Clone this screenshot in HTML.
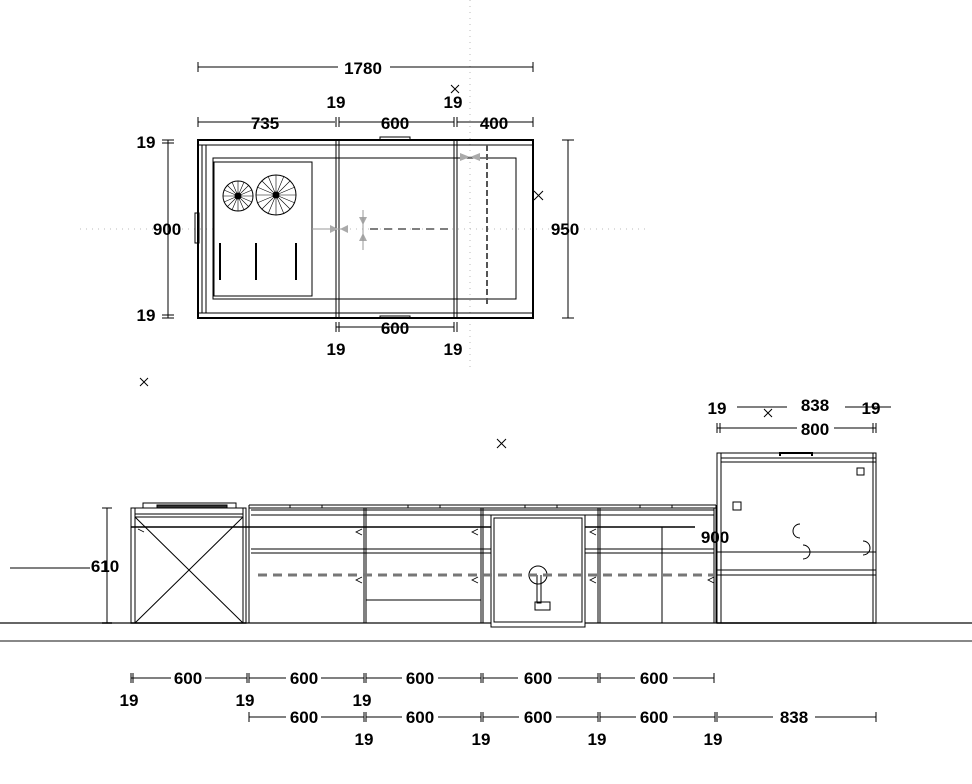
<!DOCTYPE html>
<html><head><meta charset="utf-8"><style>
html,body{margin:0;padding:0;background:#fff;width:972px;height:784px;overflow:hidden}
svg text{font-family:"Liberation Sans",Arial,sans-serif;font-weight:bold;font-size:17px;fill:#000}
</style></head><body>
<svg width="972" height="784" viewBox="0 0 972 784" xmlns="http://www.w3.org/2000/svg">
<g fill="none" stroke="#000" stroke-width="1">
<line x1="80" y1="229" x2="645" y2="229" stroke="#bbb" stroke-dasharray="1 5"/>
<line x1="470" y1="0" x2="470" y2="370" stroke="#bbb" stroke-dasharray="1 5"/>
<rect x="198" y="140" width="335" height="178" stroke-width="2"/>
<line x1="198" y1="145" x2="533" y2="145"/>
<line x1="198" y1="313" x2="533" y2="313"/>
<line x1="202" y1="145" x2="202" y2="313"/>
<line x1="206" y1="145" x2="206" y2="313"/>
<rect x="195" y="213" width="4" height="30"/>
<line x1="336" y1="140" x2="336" y2="318"/><line x1="339" y1="140" x2="339" y2="318"/>
<line x1="454" y1="140" x2="454" y2="318"/><line x1="457" y1="140" x2="457" y2="318"/>
<path d="M380 140 v-3 h30 v3"/>
<path d="M380 318 v-2 h30 v2"/>
<rect x="213" y="158" width="303" height="141"/>
<rect x="214" y="162" width="98" height="134" fill="#fff"/>
<circle cx="238" cy="196" r="15"/><circle cx="276" cy="195" r="20"/>
<g stroke-width="0.6">
<path d="M223 196h30M238 181v30M227 185l22 22M249 185l-22 22M232 182l12 28M244 182l-12 28M224 190l28 12M252 190l-28 12"/>
<path d="M256 195h40M276 175v40M262 181l28 28M290 181l-28 28M268 176l16 38M284 176l-16 38M257 187l38 16M295 187l-38 16"/>
</g>
<circle cx="238" cy="196" r="3" fill="#000"/><circle cx="276" cy="195" r="3" fill="#000"/>
<line x1="220" y1="243" x2="220" y2="280" stroke-width="2"/>
<line x1="256" y1="243" x2="256" y2="280" stroke-width="2"/>
<line x1="296" y1="243" x2="296" y2="280" stroke-width="2"/>
<line x1="487" y1="145" x2="487" y2="305" stroke="#555" stroke-width="2" stroke-dasharray="6 3"/>
<line x1="370" y1="229" x2="454" y2="229" stroke="#555" stroke-width="1.5" stroke-dasharray="8 6"/>
<line x1="312" y1="229" x2="345" y2="229" stroke="#999"/>
<path d="M330 225l8 4-8 4zM348 225l-8 4 8 4zM359 217l4 8 4-8zM359 241l4-8 4 8zM460 153l10 4-10 4zM480 153l-10 4 10 4z" fill="#aaa" stroke="none"/>
<line x1="363" y1="210" x2="363" y2="250" stroke="#999"/>
<path d="M198 67h140M390 67h143M198 62v10M533 62v10"/>
<path d="M198 122h137M339 122h115M457 122h76M198 117v10M336 117v10M339 117v10M454 117v10M457 117v10M533 117v10"/>
<path d="M168 140v178M162 140h12M162 143h12M162 315h12M162 318h12"/>
<path d="M568 140v178M562 140h12M562 318h12"/>
<path d="M336 327h118M336 322v10M339 322v10M454 322v10M457 322v10"/>
<path d="M451 85l8 8M459 85l-8 8M534 191l9 9M543 191l-9 9M140 378l8 8M148 378l-8 8M497 439l9 9M506 439l-9 9M764 409l8 8M772 409l-8 8"/>
<line x1="0" y1="623" x2="972" y2="623" stroke="#666" stroke-width="2"/>
<line x1="0" y1="641" x2="972" y2="641" stroke="#888" stroke-width="2"/>
<rect x="131" y="508" width="115" height="115"/>
<line x1="135" y1="508" x2="135" y2="623"/><line x1="243" y1="508" x2="243" y2="623"/>
<line x1="135" y1="514" x2="243" y2="514"/><line x1="135" y1="517" x2="243" y2="517"/>
<path d="M135 517L243 623M243 517L135 623"/>
<rect x="143" y="503" width="93" height="5"/>
<rect x="157" y="505" width="70" height="3" fill="#333"/>
<path d="M249 505h467M249 508h467M249 623V505M716 623V505"/>
<path d="M364 508v115M366 508v115M481 508v115M483 508v115M598 508v115M600 508v115M714 508v115"/>
<path d="M251 510h463M251 515h463M251 549h463M251 553h463M366 600h115M662 527v96"/>
<path d="M290 508v-3h32v3M408 508v-3h32v3M525 508v-3h32v3M640 508v-3h32v3"/>
<line x1="131" y1="527" x2="695" y2="527" stroke-width="1.5"/>
<rect x="491" y="515" width="94" height="112" fill="#fff"/>
<rect x="494" y="518" width="88" height="104"/>
<circle cx="538" cy="575" r="9"/>
<path d="M541 575v28h-4v-28"/><rect x="535" y="602" width="15" height="8"/>
<line x1="258" y1="575" x2="714" y2="575" stroke="#777" stroke-width="3" stroke-dasharray="9 6"/>
<path d="M144 532l-6-3M362 529l-6 3 6 3M478 529l-6 3 6 3M596 529l-6 3 6 3M362 577l-6 3 6 3M478 577l-6 3 6 3M596 577l-6 3 6 3M714 577l-6 3 6 3" stroke-width="0.8"/>
<rect x="717" y="453" width="159" height="170"/>
<path d="M721 458h155M721 462h155M721 453v170M873 453v170M717 552h159M717 570h159M717 575h159"/>
<path d="M780 456v-3h32v3" stroke-width="2"/>
<rect x="733" y="502" width="8" height="8"/><rect x="857" y="468" width="7" height="7"/>
<path d="M800 524a7 7 0 0 0 0 14M803 545a7 7 0 0 1 0 14M863 541a7 7 0 0 1 0 14"/>
<path d="M107 508v115M102 508h10M102 623h10M10 568h75M85 568h5"/>
<path d="M717 428h80M834 428h42M717 423v10M720 423v10M873 423v10M876 423v10M737 407h50M845 407h46"/>
<path d="M131 678h40M205 678h42M249 678h37M321 678h43M366 678h36M438 678h43M483 678h35M558 678h40M600 678h35M673 678h41"/>
<path d="M131 673v10M133 673v10M247 673v10M249 673v10M364 673v10M366 673v10M481 673v10M483 673v10M598 673v10M600 673v10M714 673v10"/>
<path d="M249 717h37M321 717h43M366 717h36M438 717h43M483 717h36M556 717h42M600 717h36M673 717h42M718 717h55M815 717h61"/>
<path d="M249 712v10M364 712v10M366 712v10M481 712v10M483 712v10M598 712v10M600 712v10M715 712v10M717 712v10M876 712v10"/>
</g>
<text x="363" y="74" text-anchor="middle">1780</text>
<text x="265" y="129" text-anchor="middle">735</text>
<text x="395" y="129" text-anchor="middle">600</text>
<text x="494" y="129" text-anchor="middle">400</text>
<text x="336" y="108" text-anchor="middle">19</text>
<text x="453" y="108" text-anchor="middle">19</text>
<text x="146" y="148" text-anchor="middle">19</text>
<text x="146" y="321" text-anchor="middle">19</text>
<text x="167" y="235" text-anchor="middle">900</text>
<text x="565" y="235" text-anchor="middle">950</text>
<text x="395" y="334" text-anchor="middle">600</text>
<text x="336" y="355" text-anchor="middle">19</text>
<text x="453" y="355" text-anchor="middle">19</text>
<text x="105" y="572" text-anchor="middle">610</text>
<text x="715" y="543" text-anchor="middle">900</text>
<text x="717" y="414" text-anchor="middle">19</text>
<text x="815" y="411" text-anchor="middle">838</text>
<text x="871" y="414" text-anchor="middle">19</text>
<text x="815" y="435" text-anchor="middle">800</text>
<text x="188" y="684" text-anchor="middle">600</text>
<text x="304" y="684" text-anchor="middle">600</text>
<text x="420" y="684" text-anchor="middle">600</text>
<text x="538" y="684" text-anchor="middle">600</text>
<text x="654" y="684" text-anchor="middle">600</text>
<text x="129" y="706" text-anchor="middle">19</text>
<text x="245" y="706" text-anchor="middle">19</text>
<text x="362" y="706" text-anchor="middle">19</text>
<text x="304" y="723" text-anchor="middle">600</text>
<text x="420" y="723" text-anchor="middle">600</text>
<text x="538" y="723" text-anchor="middle">600</text>
<text x="654" y="723" text-anchor="middle">600</text>
<text x="794" y="723" text-anchor="middle">838</text>
<text x="364" y="745" text-anchor="middle">19</text>
<text x="481" y="745" text-anchor="middle">19</text>
<text x="597" y="745" text-anchor="middle">19</text>
<text x="713" y="745" text-anchor="middle">19</text>
</svg>
</body></html>
